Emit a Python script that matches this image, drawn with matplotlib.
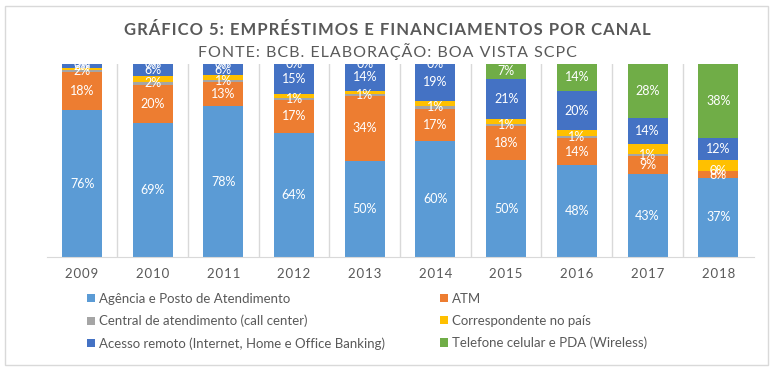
import matplotlib
matplotlib.use("Agg")
import matplotlib.pyplot as plt
from matplotlib.patches import Rectangle
import numpy as np

anos = ['2009', '2010', '2011', '2012', '2013', '2014', '2015', '2016', '2017', '2018']

# altura dos segmentos (%)
agencia = [76, 69.6, 78, 64.4, 49.9, 60.3, 50, 47.8, 43, 41]
atm = [19.6, 19.6, 12.6, 17, 33.6, 16.5, 18, 13.7, 9.4, 3.3]
central = [1.2, 1.7, 1, 1, 1, 1.6, 1, 1.2, 0.9, 0.5]
correspondente = [1.2, 3.1, 2.6, 2, 1.7, 2.6, 2.6, 2.9, 5.4, 5.2]
remoto = [2.0, 5.9, 5.7, 15.4, 13.7, 19, 20.8, 20.6, 13.5, 11.4]
celular = [0.2, 0.2, 0.2, 0.2, 0.2, 0.4, 7.6, 13.7, 27.9, 38.5]

# rotulos mostrados no grafico
rot_agencia = [76, 69, 78, 64, 50, 60, 50, 48, 43, 37]
rot_atm = [18, 20, 13, 17, 34, 17, 18, 14, 9, 8]
rot_central = [2, 2, 1, 1, 1, 1, 1, 1, 1, 0]
rot_remoto = [2, 6, 6, 15, 14, 19, 21, 20, 14, 12]
rot_celular = [0, 0, 0, 0, 0, 0, 7, 14, 28, 38]

nomes = ['Agência e Posto de Atendimento', 'ATM',
         'Central de atendimento (call center)', 'Correspondente no país',
         'Acesso remoto (Internet, Home e Office Banking)',
         'Telefone celular e PDA (Wireless)']
cores = ['#5B9BD5', '#ED7D31', '#A5A5A5', '#FFC000', '#4472C4', '#70AD47']

plt.rcParams['font.family'] = ['Lato', 'DejaVu Sans']


def espacar(txt, sep='\u200a'):
    # imita o espacamento entre letras do Excel
    return sep.join(txt)


fig = plt.figure(figsize=(7.75, 3.76), dpi=100)
ax = fig.add_axes([0.0603, 0.3165, 0.912, 0.5133])

series = [agencia, atm, central, correspondente, remoto, celular]
rotulos = [rot_agencia, rot_atm, rot_central, None, rot_remoto, rot_celular]
x = np.arange(len(anos))
base = np.zeros(len(anos))
handles = []
for vals, rot, cor, nome in zip(series, rotulos, cores, nomes):
    vals = np.array(vals, dtype=float)
    b = ax.bar(x, vals, 0.566, bottom=base, color=cor, label=nome, zorder=2)
    handles.append(b)
    if rot is not None:
        for xi, yb, v, r in zip(x, base, vals, rot):
            ax.text(xi, yb + v / 2, f'{r}%', ha='center', va='center',
                    color='white', fontsize=9, clip_on=True, zorder=3)
    base += vals

ax.set_xlim(-0.5, len(anos) - 0.5)
ax.set_ylim(0, 100)
ax.set_yticks([])
ax.set_xticks(x)
ax.set_xticklabels([espacar(a) for a in anos], fontsize=9.5, color='#595959')
ax.tick_params(axis='x', length=0, pad=8)
for xl in np.arange(0.5, len(anos) - 1, 1):
    ax.axvline(xl, color='#D9D9D9', lw=1, zorder=1)
for s in ['top', 'left', 'right']:
    ax.spines[s].set_visible(False)
ax.spines['bottom'].set_color('#D9D9D9')

fig.text(0.5, 0.92, espacar('GRÁFICO 5: EMPRÉSTIMOS E FINANCIAMENTOS POR CANAL'),
         ha='center', va='center', fontsize=12, fontweight='bold', color='#595959')
fig.text(0.5, 0.862, espacar('FONTE: BCB. ELABORAÇÃO: BOA VISTA SCPC'),
         ha='center', va='center', fontsize=11.5, color='#595959')

# ordem por linhas, como no Excel
ordem = [0, 2, 4, 1, 3, 5]
fig.legend(handles=[handles[i] for i in ordem], loc='upper left',
           bbox_to_anchor=(0.105, 0.235),
           ncol=2, frameon=False, fontsize=9.5, labelcolor='#595959',
           handlelength=0.6, handleheight=0.6, handletextpad=0.3,
           columnspacing=4.2, labelspacing=0.75, borderaxespad=0)

fig.patches.append(Rectangle((5 / 775, 1 - 365 / 376), 763 / 775, 359 / 376,
                             transform=fig.transFigure, fill=False,
                             edgecolor='#D9D9D9', lw=1))

fig.savefig('out.png', dpi=100)
